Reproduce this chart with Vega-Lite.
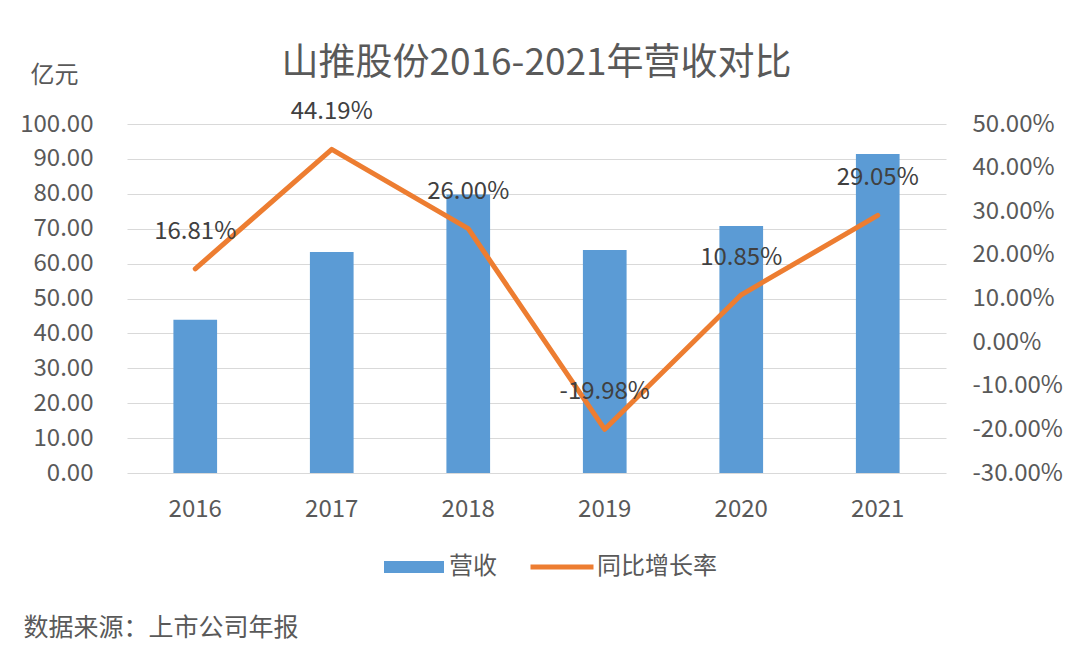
{
  "$schema": "https://vega.github.io/schema/vega-lite/v6.json",
  "width": 819,
  "height": 349,
  "autosize": {"type": "none"},
  "padding": {"left": 127, "top": 124, "right": 134, "bottom": 185},
  "background": "white",
  "config": {
    "font": "Noto Sans CJK SC",
    "view": {"stroke": null}
  },
  "title": {
    "text": "山推股份2016-2021年营收对比",
    "fontSize": 37,
    "fontWeight": "normal",
    "color": "#595959",
    "anchor": "middle",
    "frame": "group",
    "offset": -20
  },
  "data": {
    "values": [
      {"year": "2016", "revenue": 43.94, "growth": 16.81},
      {"year": "2017", "revenue": 63.35, "growth": 44.19},
      {"year": "2018", "revenue": 79.82, "growth": 26.00},
      {"year": "2019", "revenue": 63.87, "growth": -19.98},
      {"year": "2020", "revenue": 70.80, "growth": 10.85},
      {"year": "2021", "revenue": 91.37, "growth": 29.05}
    ]
  },
  "encoding": {
    "x": {
      "field": "year",
      "type": "nominal",
      "sort": null,
      "scale": {"paddingInner": 0.68, "paddingOuter": 0.34},
      "axis": {
        "labelAngle": 0,
        "labelFontSize": 24,
        "labelColor": "#595959",
        "labelPadding": 24,
        "domain": false,
        "ticks": false,
        "grid": false,
        "title": "数据来源：上市公司年报",
        "titleFontSize": 25,
        "titleFontWeight": "normal",
        "titleColor": "#595959",
        "titleAlign": "left",
        "titleBaseline": "middle",
        "titleX": -104,
        "titleY": 154
      }
    }
  },
  "layer": [
    {
      "mark": {"type": "bar"},
      "encoding": {
        "y": {
          "field": "revenue",
          "type": "quantitative",
          "scale": {"domain": [0, 100], "nice": false},
          "axis": {
            "values": [0, 10, 20, 30, 40, 50, 60, 70, 80, 90, 100],
            "format": ".2f",
            "labelFontSize": 24,
            "labelColor": "#595959",
            "labelPadding": 34,
            "domain": false,
            "ticks": false,
            "grid": true,
            "gridColor": "#D9D9D9",
            "gridWidth": 1,
            "title": "亿元",
            "titleAngle": 0,
            "titleFontSize": 24,
            "titleFontWeight": "normal",
            "titleColor": "#595959",
            "titleAlign": "left",
            "titleBaseline": "middle",
            "titleX": -97,
            "titleY": -49
          }
        },
        "color": {
          "datum": "营收",
          "type": "nominal",
          "scale": {"domain": ["营收", "同比增长率"], "range": ["#5B9BD5", "#ED7D31"]},
          "legend": {
            "orient": "none",
            "legendX": 257,
            "legendY": 413,
            "direction": "horizontal",
            "title": null,
            "labelFontSize": 24,
            "labelColor": "#595959",
            "symbolSize": 3600,
            "symbolType": "M-1,-0.2H1V0.2H-1Z",
            "labelOffset": 5,
            "columnPadding": 33,
            "encode": {
              "symbols": {
                "update": {
                  "shape": {"signal": "datum.value === '营收' ? 'M-1,-0.2H1V0.2H-1Z' : 'M-1.05,-0.085H1.05V0.085H-1.05Z'"},
                  "fill": {"signal": "datum.value === '营收' ? '#5B9BD5' : '#ED7D31'"},
                  "stroke": {"value": "transparent"},
                  "strokeWidth": {"value": 0},
                  "opacity": {"value": 1},
                  "fillOpacity": {"value": 1}
                }
              }
            }
          }
        }
      }
    },
    {
      "encoding": {
        "y": {
          "field": "growth",
          "type": "quantitative",
          "scale": {"domain": [-30, 50], "nice": false},
          "axis": {
            "orient": "right",
            "values": [-30, -20, -10, 0, 10, 20, 30, 40, 50],
            "labelExpr": "replace(format(datum.value, '.2f'), '\u2212', '-') + '%'",
            "labelFontSize": 24,
            "labelColor": "#595959",
            "labelPadding": 26,
            "domain": false,
            "ticks": false,
            "grid": false,
            "title": null
          }
        }
      },
      "layer": [
        {
          "mark": {"type": "line", "strokeWidth": 5, "strokeCap": "round", "strokeJoin": "round"},
          "encoding": {
            "color": {"datum": "同比增长率", "type": "nominal"}
          }
        },
        {
          "transform": [
            {"calculate": "replace(format(datum.growth, '.2f'), '\u2212', '-') + '%'", "as": "label"}
          ],
          "mark": {"type": "text", "dy": -37, "fontSize": 24, "color": "#404040", "baseline": "middle", "align": "center"},
          "encoding": {
            "text": {"field": "label", "type": "nominal"}
          }
        }
      ]
    }
  ],
  "resolve": {"scale": {"y": "independent"}}
}
